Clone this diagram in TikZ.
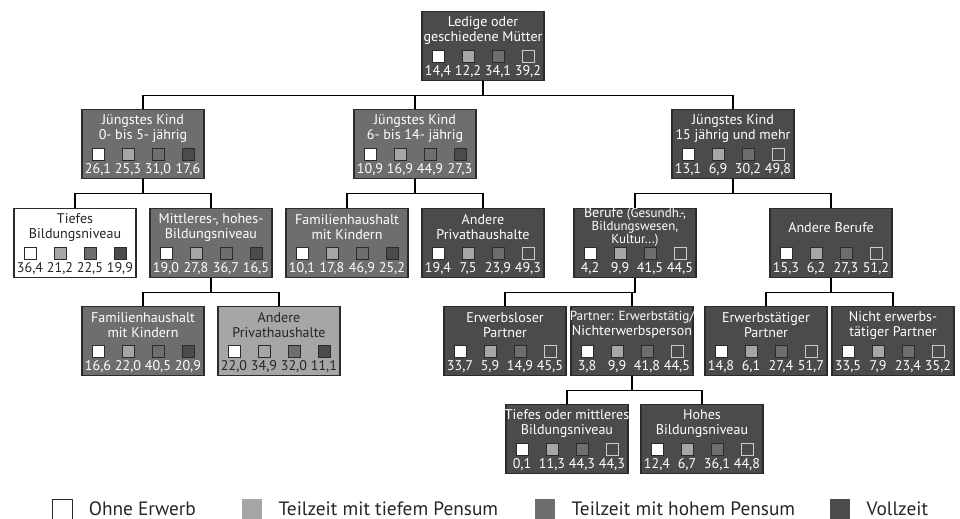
\documentclass[tikz,border=0pt]{standalone}
\usepackage{fontspec}
\setmainfont{PT Sans}
\usetikzlibrary{calc}

\definecolor{cD}{HTML}{4B4B4B}
\definecolor{cM}{HTML}{6E6E6E}
\definecolor{cL}{HTML}{A6A6A6}
\definecolor{edge}{HTML}{2B2B2B}

\tikzset{
sq/.style = {rectangle, draw=edge, line width=0.5pt, minimum size=0.24cm,
             inner sep=0pt, outer sep=0pt},
sq/.default = 0.24cm
}

% small print in a title
\newcommand{\smalltxt}[1]{{\fontsize{7.4}{7.6}\selectfont #1}}

% box with title, four squares and four shares
% #1 name, #2 position, #3 kind (D,M,L,W), #4 title, #5-#8 shares
\newcommand{\famnode}[8]{%
  \node[k#3] (#1) at #2 {};
  \node[ttl,t#3] (#1-t) at ([yshift=-0.38cm]#1.north) {#4};
  \node[sq,fill=white] (#1-s1) at ([xshift=-0.9cm,yshift=-0.9cm]#1.north) {};
  \node[sq,fill=cL] (#1-s2) at ([xshift=-0.3cm,yshift=-0.9cm]#1.north) {};
  \node[sq,fill=cM] (#1-s3) at ([xshift=0.3cm,yshift=-0.9cm]#1.north) {};
  \node[q#3] (#1-s4) at ([xshift=0.9cm,yshift=-0.9cm]#1.north) {};
  \node[num,t#3] (#1-n1) at ([xshift=-0.9cm,yshift=-1.28cm]#1.north) {#5};
  \node[num,t#3] (#1-n2) at ([xshift=-0.3cm,yshift=-1.28cm]#1.north) {#6};
  \node[num,t#3] (#1-n3) at ([xshift=0.3cm,yshift=-1.28cm]#1.north) {#7};
  \node[num,t#3] (#1-n4) at ([xshift=0.9cm,yshift=-1.28cm]#1.north) {#8};
}

\begin{document}
\begin{tikzpicture}[x=0.02cm, y=-0.02cm,
box/.style={rectangle, draw=edge, line width=0.7pt, minimum width=2.44cm, minimum height=1.37cm, inner sep=0pt},
kD/.style={box, fill=cD}, kM/.style={box, fill=cM}, kL/.style={box, fill=cL}, kW/.style={box, fill=white},
tD/.style={text=white}, tM/.style={text=white}, tL/.style={text=black!85}, tW/.style={text=black!85},
qD/.style={sq, fill=cD, draw=black!20}, qM/.style={sq, fill=cD}, qL/.style={sq, fill=cD}, qW/.style={sq, fill=cD},
ttl/.style={align=center, font=\fontsize{8}{8.5}\selectfont, inner sep=0pt},
num/.style={font=\fontsize{8}{8.5}\selectfont, inner sep=0pt, anchor=base},
conn/.style={line width=0.6pt, draw=black},
lg/.style={rectangle, minimum size=0.4cm, inner sep=0pt},
lgt/.style={anchor=west, font=\fontsize{11}{12}\selectfont, text=black!85, inner sep=0pt}]
%
\useasboundingbox (0,0) rectangle (960,519);

% level 1 and 2
\famnode{Mutter}{(483,46)}{D}{Ledige oder\\geschiedene Mütter}{14,4}{12,2}{34,1}{39,2}
\famnode{KA}{(143,144)}{M}{Jüngstes Kind\\0- bis 5- jährig}{26,1}{25,3}{31,0}{17,6}
\famnode{KB}{(415,144)}{M}{Jüngstes Kind\\6- bis 14- jährig}{10,9}{16,9}{44,9}{27,3}
\famnode{KC}{(733,144)}{D}{Jüngstes Kind\\15 jährig und mehr}{13,1}{6,9}{30,2}{49,8}

% level 3
\famnode{Tief}{(75,243)}{W}{Tiefes\\Bildungsniveau}{36,4}{21,2}{22,5}{19,9}
\famnode{MittHoch}{(211,243)}{M}{Mittleres-, hohes-\\Bildungsniveau}{19,0}{27,8}{36,7}{16,5}
\famnode{FamA}{(347,243)}{M}{Familienhaushalt\\mit Kindern}{10,1}{17,8}{46,9}{25,2}
\famnode{AndA}{(483,243)}{D}{Andere\\Privathaushalte}{19,4}{7,5}{23,9}{49,3}
\famnode{Berufe}{(635,243)}{D}{Berufe \smalltxt{(Gesundh.-,}\\[-1pt]\smalltxt{Bildungswesen,}\\[-1pt]\smalltxt{Kultur...)}}{4,2}{9,9}{41,5}{44,5}
\famnode{AndBerufe}{(831,243)}{D}{Andere Berufe}{15,3}{6,2}{27,3}{51,2}

% level 4
\famnode{FamB}{(143,341)}{M}{Familienhaushalt\\mit Kindern}{16,6}{22,0}{40,5}{20,9}
\famnode{AndB}{(279,341)}{L}{Andere\\Privathaushalte}{22,0}{34,9}{32,0}{11,1}
\famnode{ErwLos}{(505,341)}{D}{Erwerbsloser\\Partner}{33,7}{5,9}{14,9}{45,5}
\famnode{PartnerEN}{(632,341)}{D}{{\fontsize{7.5}{8}\selectfont Partner: Erwerbstätig/}\\Nichterwerbsperson}{3,8}{9,9}{41,8}{44,5}
\famnode{ErwTaet}{(766,341)}{D}{Erwerbstätiger\\Partner}{14,8}{6,1}{27,4}{51,7}
\famnode{NichtErw}{(893,341)}{D}{Nicht erwerbs-\\tätiger Partner}{33,5}{7,9}{23,4}{35,2}

% level 5
\famnode{TiefMitt}{(567,439)}{D}{Tiefes oder mittleres\\Bildungsniveau}{0,1}{11,3}{44,3}{44,3}
\famnode{Hoch}{(702,439)}{D}{Hohes\\Bildungsniveau}{12,4}{6,7}{36,1}{44,8}

% connectors
\foreach \c in {KA,KB,KC}
  \draw[conn] (Mutter.south) -- ++(0,15) -| (\c.north);
\foreach \c in {Tief,MittHoch}
  \draw[conn] (KA.south) -- ++(0,15) -| (\c.north);
\foreach \c in {FamA,AndA}
  \draw[conn] (KB.south) -- ++(0,15) -| (\c.north);
\foreach \c in {Berufe,AndBerufe}
  \draw[conn] (KC.south) -- ++(0,15) -| (\c.north);
\foreach \c in {FamB,AndB}
  \draw[conn] (MittHoch.south) -- ++(0,15) -| (\c.north);
\foreach \c in {ErwLos,PartnerEN}
  \draw[conn] (Berufe.south) -- ++(0,15) -| (\c.north);
\foreach \c in {ErwTaet,NichtErw}
  \draw[conn] (AndBerufe.south) -- ++(0,15) -| (\c.north);
\foreach \c in {TiefMitt,Hoch}
  \draw[conn] (PartnerEN.south) -- ++(0,15) -| (\c.north);

% legend
\node[lg, fill=white, draw=edge, line width=0.5pt] (lgOhne) at (62,509) {};
\node[lgt] (lgOhneT) at ([xshift=0.32cm]lgOhne.east) {Ohne Erwerb};
\node[lg, fill=cL] (lgTief) at (252,509) {};
\node[lgt] (lgTiefT) at ([xshift=0.32cm]lgTief.east) {Teilzeit mit tiefem Pensum};
\node[lg, fill=cM] (lgHoch) at (545,509) {};
\node[lgt] (lgHochT) at ([xshift=0.32cm]lgHoch.east) {Teilzeit mit hohem Pensum};
\node[lg, fill=cD] (lgVoll) at (840,509) {};
\node[lgt] (lgVollT) at ([xshift=0.32cm]lgVoll.east) {Vollzeit};

\end{tikzpicture}
\end{document}
